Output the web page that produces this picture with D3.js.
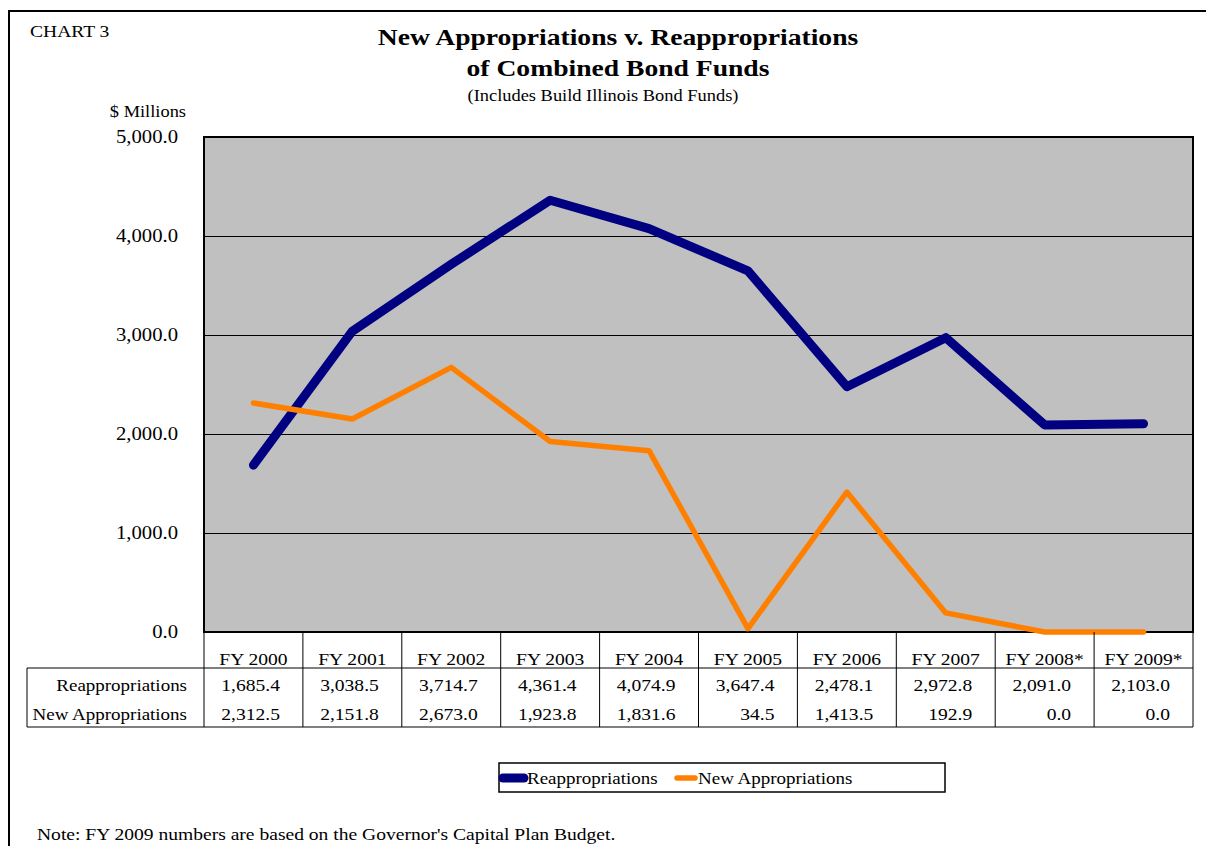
<!DOCTYPE html>
<html>
<head>
<meta charset="utf-8">
<script src="https://cdn.jsdelivr.net/npm/d3@7"></script>
<style>
  body { margin: 0; background: #fff; }
  svg text { font-family: "Liberation Serif", "Times New Roman", serif; fill: #000; }
</style>
</head>
<body>
<div id="chart"></div>
<script>
// data
const years = ["FY 2000", "FY 2001", "FY 2002", "FY 2003", "FY 2004",
               "FY 2005", "FY 2006", "FY 2007", "FY 2008*", "FY 2009*"];
const reapp = [1685.4, 3038.5, 3714.7, 4361.4, 4074.9, 3647.4, 2478.1, 2972.8, 2091.0, 2103.0];
const newApp = [2312.5, 2151.8, 2673.0, 1923.8, 1831.6, 34.5, 1413.5, 192.9, 0.0, 0.0];
const yTicks = [0, 1000, 2000, 3000, 4000, 5000];

const series = [
    {name: "Reappropriations", values: reapp, color: "#000080", width: 9},
    {name: "New Appropriations", values: newApp, color: "#FF8000", width: 5.5}
];

const W = 1206, H = 846;
const plot = {left: 204, right: 1193, top: 137, bottom: 632};
const rowH = [668, 698, 727]; // table row lines
const stretch = 1.15; // the original text is drawn wider than Times

const svg = d3.select("#chart").append("svg")
    .attr("width", W)
    .attr("height", H);

// outer frame (left + top)
svg.append("path")
    .attr("d", `M9,${H} L9,11 L${W},11`)
    .attr("fill", "none")
    .attr("stroke", "#000")
    .attr("stroke-width", 2);

const x = d3.scaleBand()
    .domain(years)
    .range([plot.left, plot.right]);

const y = d3.scaleLinear()
    .domain([0, 5000])
    .range([plot.bottom, plot.top]);

// titles
svg.append("text").attr("x", 30).attr("y", 37)
    .attr("font-size", 17).text("CHART 3");
svg.append("text").attr("x", 618).attr("y", 45)
    .attr("text-anchor", "middle").attr("font-size", 24).attr("font-weight", "bold")
    .text("New Appropriations v. Reappropriations");
svg.append("text").attr("x", 618).attr("y", 76)
    .attr("text-anchor", "middle").attr("font-size", 24).attr("font-weight", "bold")
    .text("of Combined Bond Funds");
svg.append("text").attr("x", 603).attr("y", 101)
    .attr("text-anchor", "middle").attr("font-size", 16)
    .text("(Includes Build Illinois Bond Funds)");
svg.append("text").attr("x", 186).attr("y", 117)
    .attr("text-anchor", "end").attr("font-size", 16)
    .text("$ Millions");

// plot background
svg.append("rect")
    .attr("x", plot.left).attr("y", plot.top)
    .attr("width", plot.right - plot.left)
    .attr("height", plot.bottom - plot.top)
    .attr("fill", "#C0C0C0");

// gridlines + y labels
const yAxis = d3.axisLeft(y)
    .tickValues(yTicks)
    .tickSize(-(plot.right - plot.left))
    .tickPadding(26)
    .tickFormat(d3.format(",.1f"));

svg.append("g")
    .attr("transform", `translate(${plot.left},0)`)
    .call(yAxis)
    .call(g => g.select(".domain").remove())
    .call(g => g.selectAll(".tick line").attr("stroke", "#000").attr("stroke-width", 1))
    .call(g => g.selectAll(".tick text")
        .attr("font-size", 18)
        .attr("font-family", "Liberation Serif, serif")
        .attr("fill", "#000"));

// plot border
svg.append("rect")
    .attr("x", plot.left).attr("y", plot.top)
    .attr("width", plot.right - plot.left)
    .attr("height", plot.bottom - plot.top)
    .attr("fill", "none")
    .attr("stroke", "#000")
    .attr("stroke-width", 2);

// lines
const line = d3.line()
    .x((d, i) => x(years[i]) + x.bandwidth() / 2)
    .y(d => y(d));

series.forEach(function(s) {
    svg.append("path")
        .datum(s.values)
        .attr("d", line)
        .attr("fill", "none")
        .attr("stroke", s.color)
        .attr("stroke-width", s.width)
        .attr("stroke-linejoin", "round")
        .attr("stroke-linecap", "round");
});

// data table
const tbl = svg.append("g");
tbl.append("line").attr("x1", 27).attr("x2", plot.right)
    .attr("y1", rowH[0]).attr("y2", rowH[0]).attr("stroke", "#000");
tbl.append("line").attr("x1", 27).attr("x2", plot.right)
    .attr("y1", rowH[2]).attr("y2", rowH[2]).attr("stroke", "#000");
years.forEach(function(yr) {
    tbl.append("line")
        .attr("x1", x(yr)).attr("x2", x(yr))
        .attr("y1", plot.bottom).attr("y2", rowH[2])
        .attr("stroke", "#000");
});
tbl.append("line").attr("x1", plot.right).attr("x2", plot.right)
    .attr("y1", plot.bottom).attr("y2", rowH[2]).attr("stroke", "#000");
tbl.append("line").attr("x1", 27).attr("x2", 27)
    .attr("y1", rowH[0]).attr("y2", rowH[2]).attr("stroke", "#000");

years.forEach(function(yr) {
    tbl.append("text")
        .attr("x", x(yr) + x.bandwidth() / 2)
        .attr("y", 665)
        .attr("text-anchor", "middle")
        .attr("font-size", 17)
        .text(yr);
});

const fmt = d3.format(",.1f");
series.forEach(function(s, r) {
    const ty = r === 0 ? 691 : 720;
    tbl.append("text")
        .attr("x", 187).attr("y", ty)
        .attr("text-anchor", "end")
        .attr("font-size", 16.5)
        .text(s.name);
    s.values.forEach(function(v, i) {
        tbl.append("text")
            .attr("x", x(years[i]) + x.bandwidth() - 23)
            .attr("y", ty)
            .attr("text-anchor", "end")
            .attr("font-size", 17)
            .text(fmt(v));
    });
});

// legend
const leg = svg.append("g");
leg.append("rect")
    .attr("x", 499).attr("y", 763)
    .attr("width", 446).attr("height", 29)
    .attr("fill", "#fff")
    .attr("stroke", "#000")
    .attr("stroke-width", 1.5);

const legX = [{x1: 503, x2: 524, tx: 527}, {x1: 677, x2: 695, tx: 698}];
series.forEach(function(s, i) {
    leg.append("line")
        .attr("x1", legX[i].x1).attr("x2", legX[i].x2)
        .attr("y1", 778).attr("y2", 778)
        .attr("stroke", s.color)
        .attr("stroke-width", s.width)
        .attr("stroke-linecap", "round");
    leg.append("text")
        .attr("x", legX[i].tx).attr("y", 784)
        .attr("font-size", 16.5)
        .text(s.name);
});

// note
svg.append("text").attr("x", 37).attr("y", 840)
    .attr("font-size", 17)
    .text("Note: FY 2009 numbers are based on the Governor's Capital Plan Budget.");

// widen all glyphs a bit to match the original lettering
svg.selectAll("text").each(function() {
    const w = this.getComputedTextLength();
    d3.select(this)
        .attr("textLength", w * stretch)
        .attr("lengthAdjust", "spacingAndGlyphs");
});
</script>
</body>
</html>
